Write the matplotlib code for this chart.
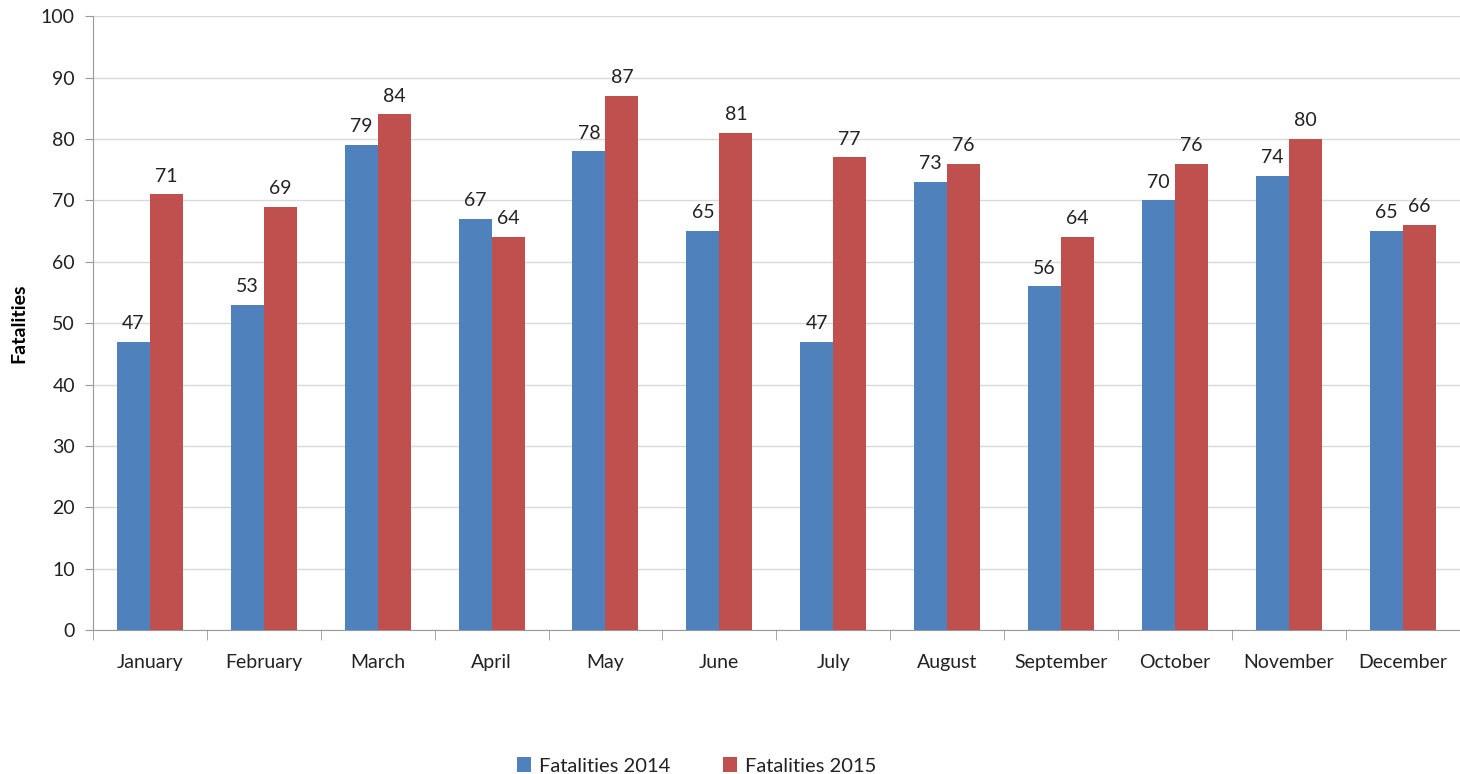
import matplotlib.pyplot as plt
import numpy as np

months = ['January', 'February', 'March', 'April', 'May', 'June', 'July',
          'August', 'September', 'October', 'November', 'December']
fat_2014 = [47, 53, 79, 67, 78, 65, 47, 73, 56, 70, 74, 65]
fat_2015 = [71, 69, 84, 64, 87, 81, 77, 76, 64, 76, 80, 66]

plt.rcParams['font.family'] = ['Lato', 'DejaVu Sans']

fig = plt.figure(figsize=(14.6, 7.74), dpi=100)
ax = fig.add_axes([0.0637, 0.186, 0.936, 0.793])

x = np.arange(len(months))
w = 0.29
b1 = ax.bar(x - w/2, fat_2014, w, color='#4f81bd', label='Fatalities 2014', zorder=3)
b2 = ax.bar(x + w/2, fat_2015, w, color='#c0504d', label='Fatalities 2015', zorder=3)
for bars in (b1, b2):
    ax.bar_label(bars, padding=7, fontsize=14, color='#222222')

ax.set_xlim(-0.5, len(months) - 0.5)
ax.set_ylim(0, 100)
ax.set_yticks(range(0, 101, 10))
ax.set_xticks(x)
ax.set_xticklabels(months)
ax.set_xticks(np.arange(-0.5, len(months)), minor=True)
ax.tick_params(axis='x', which='major', length=0, pad=17, labelsize=14, labelcolor='#222222')
ax.tick_params(axis='x', which='minor', length=7, color='#999999')
ax.tick_params(axis='y', length=6, color='#999999', labelsize=14, pad=7, labelcolor='#222222')
ax.grid(axis='y', color='#d9d9d9', linewidth=1, zorder=0)
for s in ['top', 'right']:
    ax.spines[s].set_visible(False)
for s in ['left', 'bottom']:
    ax.spines[s].set_color('#999999')
ax.set_ylabel('Fatalities', fontsize=14, fontweight='bold', labelpad=10)

ax.legend(loc='lower center', bbox_to_anchor=(0.442, -0.265), ncol=2, frameon=False,
          fontsize=14.5, handlelength=0.7, handleheight=0.7, columnspacing=2.6,
          handletextpad=0.4, labelcolor='#222222')

fig.savefig('out.png')
